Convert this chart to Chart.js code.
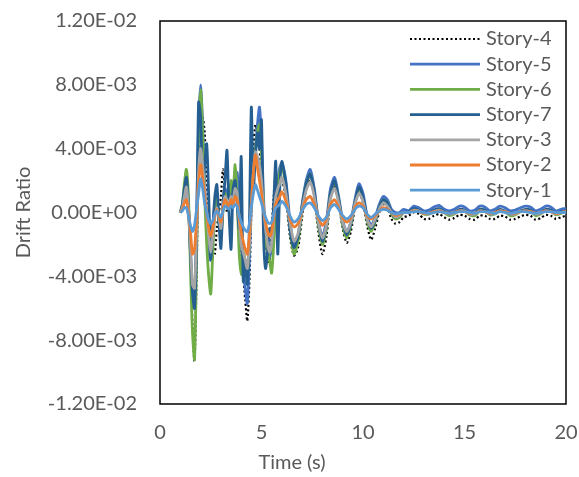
<!DOCTYPE html>
<html>
<head>
<meta charset="utf-8">
<script src="https://cdn.jsdelivr.net/npm/chart.js@4.4.1/dist/chart.umd.min.js"></script>
<style>
  html, body { margin: 0; padding: 0; background: #fff; }
</style>
</head>
<body>
<canvas id="driftChart" width="579" height="477"></canvas>
<script>
// time (s)
var time = [
  1, 1.1, 1.2, 1.3, 1.4, 1.5, 1.6, 1.7, 1.8, 1.9,
  2, 2.1, 2.2, 2.3, 2.4, 2.5, 2.6, 2.7, 2.8, 2.9,
  3, 3.1, 3.2, 3.3, 3.4, 3.5, 3.6, 3.7, 3.8, 3.9,
  4, 4.1, 4.2, 4.3, 4.4, 4.5, 4.6, 4.7, 4.8, 4.9,
  5, 5.1, 5.2, 5.3, 5.4, 5.5, 5.6, 5.7, 5.8, 5.9, 6,
  6.2, 6.4, 6.6, 6.8, 7, 7.2, 7.4, 7.6, 7.8, 8, 8.2, 8.4, 8.6, 8.8, 9,
  9.2, 9.4, 9.6, 9.8, 10, 10.2, 10.4, 10.6, 10.8, 11, 11.2, 11.4, 11.6, 11.8, 12,
  12.25, 12.5, 12.75, 13, 13.25, 13.5, 13.75, 14, 14.25, 14.5, 14.75, 15, 15.25, 15.5, 15.75, 16,
  16.25, 16.5, 16.75, 17, 17.25, 17.5, 17.75, 18, 18.25, 18.5, 18.75, 19, 19.25, 19.5, 19.75, 20
];

// drift ratio values, in units of 1E-03
var story4 = [
  0, 0.3, 1.2, 2.0, 0.8, -3.0, -7.0, -9.3, -4.0, 3.0,
  5.8, 6.0, 5.0, 2.0, -0.5, -2.0, -2.8, -2.6, -1.0, 0.0,
  1.0, 2.7, 1.5, 0.0, 0.5, 1.5, 0.5, 1.5, 1.0, -1.0,
  -2.5, -4.0, -5.5, -6.8, -4.5, 0.0, 4.0, 5.5, 5.0, 4.0,
  2.5, 0.5, -1.5, -3.1, -3.0, -1.0, 1.0, 2.4, 2.0, 1.8, 2.0,
  1.0, -1.5, -2.7, -2.2, -0.3, 1.5, 2.2, 1.0, -1.2, -2.6, -1.5, 0.8, 1.7, 0.6, -1.0,
  -1.9, -1.2, 0.3, 1.3, 0.6, -0.8, -1.7, -1.0, 0.0, 0.5, 0.3, -0.4, -0.7, -0.6, -0.3,
  -0.2, 0.0, -0.1, -0.4, -0.4, -0.2, -0.1, -0.3, -0.45, -0.35, -0.15, -0.2, -0.4, -0.45, -0.2, -0.2,
  -0.4, -0.4, -0.2, -0.25, -0.45, -0.4, -0.25, -0.15, -0.2, -0.45, -0.35, -0.15, -0.2, -0.4, -0.3, -0.2
];
var story5 = [
  0, 0.2, 1.0, 1.8, 0.5, -2.5, -5.0, -5.5, -0.5, 5.5,
  8.0, 5.5, 2.0, -0.5, -2.5, -3.0, -1.0, 0.5, 1.0, -0.5,
  -1.5, 0.5, 1.5, 1.0, 0.5, 1.5, 1.0, 2.0, 2.5, 0.5,
  -2.0, -3.5, -4.8, -5.7, -3.0, 0.5, 3.5, 4.0, 5.5, 6.6,
  4.5, 1.0, -1.5, -2.5, -2.8, -2.0, 0.0, 1.5, 2.0, 2.8, 3.1,
  2.0, -0.5, -2.0, -1.5, 0.5, 2.0, 2.7, 1.5, -0.5, -1.5, -0.5, 1.5, 2.2, 1.0, -0.5,
  -1.2, -0.6, 0.8, 1.8, 1.2, -0.2, -0.8, -0.3, 0.5, 1.0, 0.8, 0.2, 0.0, 0.0, 0.2,
  0.1, 0.4, 0.3, 0.1, 0.15, 0.35, 0.45, 0.2, 0.1, 0.2, 0.4, 0.35, 0.1, 0.15, 0.4, 0.35,
  0.1, 0.2, 0.4, 0.3, 0.1, 0.15, 0.3, 0.4, 0.35, 0.1, 0.2, 0.4, 0.35, 0.1, 0.2, 0.25
];
var story6 = [
  0, 0.5, 1.8, 2.7, 1.0, -3.5, -7.5, -9.2, -3.0, 5.0,
  7.7, 5.0, 1.0, -2.0, -4.0, -5.1, -2.5, 0.0, 0.8, -0.5,
  -1.5, 0.0, 1.2, 0.5, 1.0, 2.0, 1.2, 3.0, 1.0, -2.5,
  -3.9, -2.5, -3.0, -4.0, -2.0, 1.0, 3.0, 4.0, 5.0, 5.5,
  3.5, 0.5, -1.5, -2.5, -3.0, -3.8, -2.0, 0.0, 1.5, 2.5, 3.0,
  1.5, -1.0, -2.6, -1.8, 0.3, 1.8, 2.4, 1.2, -0.8, -2.0, -1.0, 1.2, 1.9, 0.8, -0.8,
  -1.6, -0.8, 0.6, 1.5, 0.9, -0.5, -1.2, -0.6, 0.3, 0.8, 0.6, -0.1, -0.4, -0.3, 0.0,
  0.0, 0.2, 0.1, -0.1, -0.1, 0.1, 0.2, 0.0, -0.2, -0.1, 0.15, 0.1, -0.15, -0.2, 0.1, 0.1,
  -0.15, -0.1, 0.15, 0.05, -0.2, -0.15, 0.05, 0.15, 0.1, -0.2, -0.1, 0.15, 0.1, -0.15, -0.05, 0.05
];
var story7 = [
  0, 0.5, 1.5, 2.2, 0.5, -2.5, -5.0, -6.0, -2.0, 6.9,
  6.0, 2.0, 3.0, 4.3, 1.0, -2.9, -1.0, 1.0, 1.75, -0.5,
  -2.25, 0.5, 2.0, 3.9, 0.0, -2.3, 1.5, 2.0, 0.5, -1.0,
  3.5, -4.3, -3.0, -4.5, -1.0, 6.6, 1.5, 3.5, 5.0, 4.0,
  5.8, -1.4, -3.5, -2.5, -1.0, -1.5, 0.5, 3.2, -2.6, 1.5, 3.2,
  1.8, -1.0, -2.2, -1.5, 0.4, 1.8, 2.4, 1.3, -0.6, -1.8, -0.8, 1.2, 2.0, 0.8, -0.6,
  -1.4, -0.7, 0.6, 1.6, 1.0, -0.3, -1.0, -0.5, 0.3, 0.8, 0.6, 0.0, -0.3, -0.2, 0.0,
  0.05, 0.25, 0.15, 0.0, -0.05, 0.15, 0.25, 0.05, -0.1, 0.0, 0.2, 0.15, -0.1, -0.05, 0.2, 0.15,
  -0.1, 0.0, 0.2, 0.1, -0.1, -0.05, 0.1, 0.2, 0.15, -0.1, 0.0, 0.2, 0.15, -0.05, 0.05, 0.1
];
var story3 = [
  0, 0.3, 1.0, 1.6, 0.3, -2.0, -4.5, -4.75, -1.5, 2.5,
  4.0, 3.0, 1.5, 0.0, -1.5, -2.5, -1.5, -0.3, 0.3, -0.3,
  -1.0, 0.3, 1.0, 0.8, 0.5, 1.0, 0.8, 1.5, 1.2, -0.5,
  -2.0, -2.5, -3.0, -3.5, -2.0, 0.5, 2.5, 3.8, 3.5, 3.0,
  2.0, 0.3, -1.0, -2.0, -2.5, -2.0, -0.5, 1.0, 1.5, 1.8, 2.2,
  1.2, -0.6, -1.8, -1.3, 0.2, 1.4, 1.9, 1.0, -0.6, -1.6, -0.8, 0.9, 1.5, 0.6, -0.6,
  -1.2, -0.6, 0.5, 1.2, 0.7, -0.4, -0.9, -0.4, 0.2, 0.6, 0.4, 0.0, -0.3, -0.2, 0.0,
  0.0, 0.15, 0.1, -0.05, -0.1, 0.05, 0.15, 0.0, -0.1, -0.05, 0.1, 0.1, -0.1, -0.1, 0.1, 0.05,
  -0.1, -0.05, 0.1, 0.05, -0.1, -0.1, 0.05, 0.1, 0.05, -0.1, -0.05, 0.1, 0.05, -0.1, 0.0, 0.05
];
var story2 = [
  0, 0.2, 0.6, 0.8, 0.0, -1.2, -2.6, -2.3, -0.5, 1.8,
  3.0, 2.2, 1.0, 0.0, -1.0, -1.5, -1.0, -0.2, 0.2, -0.2,
  -0.6, 0.2, 0.8, 0.6, 0.4, 0.8, 0.5, 1.0, 0.8, -0.3,
  -1.2, -1.8, -2.3, -2.6, -1.5, 0.5, 2.5, 3.6, 2.8, 2.0,
  1.2, 0.2, -0.6, -1.2, -1.5, -1.2, -0.3, 0.5, 0.8, 1.0, 1.3,
  0.7, -0.4, -0.9, -0.7, 0.1, 0.8, 1.0, 0.5, -0.3, -0.8, -0.4, 0.5, 0.8, 0.3, -0.3,
  -0.6, -0.3, 0.3, 0.6, 0.4, -0.2, -0.4, -0.2, 0.1, 0.3, 0.2, 0.0, -0.2, -0.1, 0.0,
  0.0, 0.1, 0.05, -0.05, -0.05, 0.05, 0.1, 0.0, -0.05, 0.0, 0.1, 0.05, -0.05, -0.05, 0.1, 0.05,
  -0.05, 0.0, 0.1, 0.05, -0.05, -0.05, 0.05, 0.1, 0.05, -0.05, 0.0, 0.1, 0.05, -0.05, 0.0, 0.05
];
var story1 = [
  0, 0.1, 0.3, 0.3, -0.2, -0.8, -1.2, -0.8, 0.2, 1.2,
  2.1, 1.5, 0.6, 0.0, -0.5, -0.7, -0.5, -0.1, 0.1, -0.1,
  -0.3, 0.1, 0.4, 0.3, 0.2, 0.4, 0.3, 0.5, 0.4, -0.2,
  -0.6, -0.9, -1.1, -1.2, -0.7, 0.3, 1.2, 1.75, 1.4, 1.0,
  0.6, 0.1, -0.3, -0.6, -0.7, -0.6, -0.1, 0.3, 0.4, 0.5, 0.7,
  0.4, -0.2, -0.6, -0.4, 0.1, 0.5, 0.6, 0.3, -0.2, -0.5, -0.3, 0.3, 0.5, 0.2, -0.2,
  -0.4, -0.2, 0.2, 0.4, 0.3, -0.1, -0.3, -0.1, 0.1, 0.2, 0.15, 0.0, -0.1, -0.05, 0.0,
  0.0, 0.05, 0.05, 0.0, -0.05, 0.0, 0.05, 0.0, -0.05, 0.0, 0.05, 0.05, 0.0, -0.05, 0.05, 0.05,
  0.0, -0.05, 0.05, 0.0, -0.05, 0.0, 0.05, 0.05, 0.0, -0.05, 0.0, 0.05, 0.05, 0.0, 0.0, 0.0
];

var seriesNames = ["Story-4", "Story-5", "Story-6", "Story-7", "Story-3", "Story-2", "Story-1"];
var seriesValues = [story4, story5, story6, story7, story3, story2, story1];
var seriesColors = ["#000000", "#4472C4", "#70AD47", "#255E91", "#A5A5A5", "#ED7D31", "#5B9BD5"];

var xTicks = [0, 5, 10, 15, 20];
var yTicks = [-0.012, -0.008, -0.004, 0, 0.004, 0.008, 0.012];

var textColor = "#595959";
var fontName = "Lato, 'Open Sans', sans-serif";

// Excel style 0.00E+00
function sci(v) {
  if (Math.abs(v) < 1e-12) return "0.00E+00";
  var s = v.toExponential(2).toUpperCase();
  return s.replace(/E([+-])(\d)$/, "E$10$2");
}

var datasets = seriesNames.map(function (name, i) {
  return {
    label: name,
    data: time.map(function (t, j) { return { x: t, y: seriesValues[i][j] / 1000 }; }),
    borderColor: seriesColors[i],
    borderWidth: i === 0 ? 2.2 : 2.8,
    borderDash: i === 0 ? [2, 2.5] : [],
    pointRadius: 0,
    tension: 0.25,
    fill: false,
    order: seriesNames.length - i
  };
});

var framePlugin = {
  id: "frame",
  beforeDatasetsDraw: function (chart) {
    var a = chart.chartArea, ctx = chart.ctx;
    ctx.save();
    ctx.strokeStyle = "#000";
    ctx.lineWidth = 1.5;
    ctx.strokeRect(a.left, a.top, a.right - a.left, a.bottom - a.top);
    ctx.restore();
  },
  afterDraw: function (chart) {
    var a = chart.chartArea, ctx = chart.ctx;
    ctx.save();
    // legend
    ctx.font = "20px " + fontName;
    ctx.textBaseline = "middle";
    ctx.textAlign = "left";
    chart.data.datasets.forEach(function (ds, i) {
      var y = a.top + 18 + i * 25.2;
      ctx.beginPath();
      ctx.strokeStyle = ds.borderColor;
      ctx.lineWidth = ds.borderWidth;
      ctx.setLineDash(ds.borderDash);
      ctx.moveTo(a.left + 250, y);
      ctx.lineTo(a.left + 320, y);
      ctx.stroke();
      ctx.setLineDash([]);
      ctx.fillStyle = textColor;
      ctx.fillText(ds.label, a.left + 326, y);
    });
    // x axis title
    ctx.textAlign = "center";
    ctx.fillText("Time (s)", a.left + 132, 463);
    ctx.restore();
  }
};

var ctx = document.getElementById("driftChart").getContext("2d");
var driftChart = new Chart(ctx, {
  type: "line",
  data: { datasets: datasets },
  options: {
    responsive: false,
    animation: false,
    layout: { padding: { top: 21, right: 13, left: 0, bottom: 0 } },
    plugins: {
      legend: { display: false },
      tooltip: { enabled: false }
    },
    scales: {
      x: {
        type: "linear",
        min: 0,
        max: 20,
        border: { display: false },
        grid: { display: false, drawTicks: false },
        afterBuildTicks: function (s) { s.ticks = xTicks.map(function (v) { return { value: v }; }); },
        afterFit: function (s) { s.height = 73; s.paddingLeft = 0; s.paddingRight = 0; },
        ticks: {
          padding: 17,
          color: textColor,
          font: { family: fontName, size: 20 },
          maxRotation: 0,
          callback: function (v) { return String(v); }
        }
      },
      y: {
        min: -0.012,
        max: 0.012,
        border: { display: false },
        grid: { display: false, drawTicks: false },
        afterBuildTicks: function (s) { s.ticks = yTicks.map(function (v) { return { value: v }; }); },
        afterFit: function (s) { s.width = 160; s.paddingTop = 0; s.paddingBottom = 0; },
        ticks: {
          padding: 23,
          color: textColor,
          font: { family: fontName, size: 20 },
          callback: function (v) { return sci(v); }
        },
        title: {
          display: true,
          text: "Drift Ratio",
          color: textColor,
          font: { family: fontName, size: 20 },
          padding: { top: 12, bottom: 0 }
        }
      }
    }
  },
  plugins: [framePlugin]
});
</script>
</body>
</html>
